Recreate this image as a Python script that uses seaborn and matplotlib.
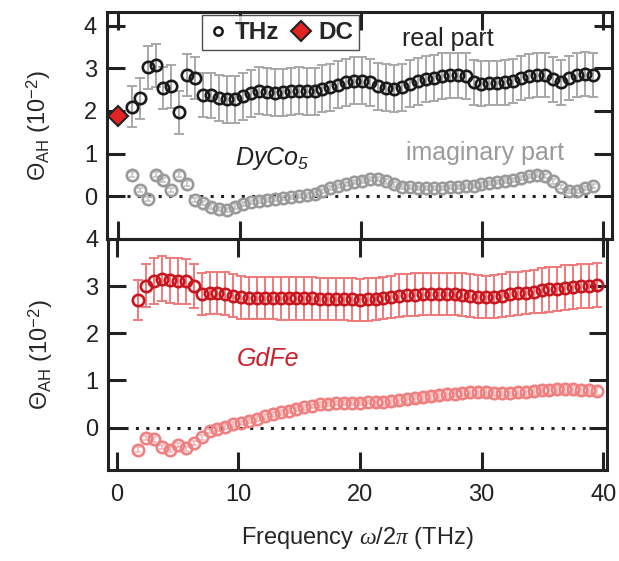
import numpy as np
import pandas as pd
import seaborn as sns
import matplotlib.pyplot as plt
from matplotlib.lines import Line2D

# DyCo5 (top panel): THz frequencies and Hall angle (10^-2)
freq_dyco = [1.10, 1.76, 2.41, 3.07, 3.72, 4.38, 5.04, 5.69, 6.35, 7.00,
             7.66, 8.32, 8.97, 9.63, 10.28, 10.94, 11.60, 12.25, 12.91, 13.56,
             14.22, 14.88, 15.53, 16.19, 16.84, 17.50, 18.16, 18.81, 19.47, 20.12,
             20.78, 21.44, 22.09, 22.75, 23.40, 24.06, 24.72, 25.37, 26.03, 26.68,
             27.34, 28.00, 28.65, 29.31, 29.96, 30.62, 31.28, 31.93, 32.59, 33.24,
             33.90, 34.56, 35.21, 35.87, 36.52, 37.18, 37.84, 38.49, 39.15]
dyco_re = [2.10, 2.30, 3.02, 3.07, 2.54, 2.58, 1.97, 2.85, 2.78, 2.37,
           2.37, 2.30, 2.28, 2.28, 2.35, 2.41, 2.47, 2.45, 2.43, 2.44,
           2.46, 2.48, 2.46, 2.46, 2.52, 2.56, 2.61, 2.67, 2.71, 2.71,
           2.67, 2.58, 2.54, 2.52, 2.56, 2.64, 2.70, 2.74, 2.77, 2.82,
           2.84, 2.84, 2.82, 2.67, 2.64, 2.65, 2.65, 2.67, 2.71, 2.77,
           2.82, 2.85, 2.84, 2.74, 2.67, 2.77, 2.84, 2.86, 2.85]
dyco_re_err = [0.48, 0.48, 0.50, 0.50, 0.50, 0.50, 0.50, 0.49, 0.49, 0.52,
               0.53, 0.54, 0.55, 0.55, 0.55, 0.55, 0.55, 0.55, 0.55, 0.55,
               0.55, 0.55, 0.55, 0.55, 0.55, 0.55, 0.55, 0.55, 0.55, 0.55,
               0.55, 0.55, 0.55, 0.55, 0.55, 0.55, 0.55, 0.54, 0.54, 0.54,
               0.53, 0.53, 0.53, 0.52, 0.52, 0.52, 0.52, 0.52, 0.52, 0.52,
               0.52, 0.52, 0.52, 0.52, 0.52, 0.52, 0.52, 0.52, 0.52]
dyco_im = [0.51, 0.15, -0.07, 0.51, 0.39, 0.15, 0.51, 0.30, -0.08, -0.16,
           -0.24, -0.30, -0.32, -0.24, -0.18, -0.13, -0.10, -0.08, -0.06, -0.04,
           -0.02, 0.00, 0.02, 0.06, 0.12, 0.19, 0.24, 0.29, 0.33, 0.37,
           0.41, 0.40, 0.35, 0.28, 0.23, 0.21, 0.20, 0.20, 0.20, 0.20,
           0.22, 0.22, 0.24, 0.25, 0.28, 0.32, 0.34, 0.37, 0.39, 0.43,
           0.47, 0.51, 0.48, 0.35, 0.22, 0.12, 0.12, 0.20, 0.24]
dyco_im_err = [0.05] * 59
dc_freq = [0.0]
dc_value = [1.88]

# GdFe (bottom panel)
freq_gdfe = [1.78, 2.43, 3.08, 3.73, 4.38, 5.03, 5.68, 6.33, 6.98, 7.63,
             8.28, 8.93, 9.58, 10.23, 10.88, 11.53, 12.18, 12.83, 13.48, 14.13,
             14.78, 15.43, 16.08, 16.73, 17.38, 18.03, 18.68, 19.33, 19.98, 20.63,
             21.28, 21.93, 22.58, 23.23, 23.88, 24.53, 25.18, 25.83, 26.48, 27.13,
             27.78, 28.43, 29.08, 29.73, 30.38, 31.03, 31.68, 32.33, 32.98, 33.63,
             34.28, 34.93, 35.58, 36.23, 36.88, 37.53, 38.18, 38.83, 39.48]
gdfe_re = [2.71, 3.01, 3.11, 3.16, 3.12, 3.11, 3.10, 3.00, 2.83, 2.86,
           2.86, 2.84, 2.80, 2.76, 2.75, 2.75, 2.75, 2.75, 2.74, 2.74,
           2.74, 2.74, 2.74, 2.73, 2.73, 2.73, 2.73, 2.72, 2.71, 2.72,
           2.73, 2.75, 2.77, 2.80, 2.81, 2.82, 2.83, 2.83, 2.83, 2.83,
           2.83, 2.82, 2.80, 2.78, 2.77, 2.78, 2.80, 2.83, 2.85, 2.86,
           2.88, 2.91, 2.93, 2.94, 2.97, 2.98, 3.00, 3.01, 3.02]
gdfe_re_err = [0.42, 0.46, 0.48, 0.48, 0.48, 0.48, 0.47, 0.46, 0.45, 0.45,
               0.45, 0.45, 0.45, 0.45, 0.45, 0.45, 0.45, 0.45, 0.45, 0.45,
               0.45, 0.45, 0.45, 0.45, 0.45, 0.45, 0.45, 0.45, 0.45, 0.45,
               0.45, 0.45, 0.45, 0.45, 0.45, 0.45, 0.45, 0.45, 0.45, 0.45,
               0.45, 0.45, 0.45, 0.45, 0.45, 0.46, 0.46, 0.46, 0.46, 0.46,
               0.46, 0.47, 0.47, 0.47, 0.47, 0.47, 0.47, 0.47, 0.47]
gdfe_im = [-0.47, -0.22, -0.25, -0.41, -0.47, -0.37, -0.44, -0.33, -0.21, -0.07,
           -0.02, 0.02, 0.07, 0.10, 0.15, 0.19, 0.24, 0.28, 0.32, 0.36,
           0.40, 0.43, 0.46, 0.49, 0.51, 0.52, 0.53, 0.53, 0.53, 0.54,
           0.54, 0.55, 0.56, 0.58, 0.60, 0.62, 0.64, 0.66, 0.69, 0.71,
           0.72, 0.74, 0.75, 0.76, 0.75, 0.74, 0.74, 0.74, 0.75, 0.76,
           0.77, 0.79, 0.80, 0.81, 0.81, 0.81, 0.80, 0.79, 0.78]
gdfe_im_err = [0.05] * 30 + [0.08] * 29

sns.set_style('ticks')
plt.rcParams['font.family'] = ['Liberation Sans', 'DejaVu Sans']
plt.rcParams['mathtext.fontset'] = 'custom'
plt.rcParams['mathtext.rm'] = 'Liberation Sans'
plt.rcParams['mathtext.it'] = 'Liberation Serif:italic'
plt.rcParams['mathtext.sf'] = 'Liberation Sans:italic'

FS = 17
INK = '#222222'

fig = plt.figure(figsize=(6.19, 5.61), dpi=100)
ax1 = fig.add_axes([0.1724, 0.574, 0.8163, 0.4046])
ax2 = fig.add_axes([0.175, 0.1622, 0.805, 0.4118])


def draw(ax, f, y, err, color, ecolor, elw=1.4, cap=3.6):
    ax.errorbar(f, y, yerr=err, fmt='none', ecolor=ecolor, elinewidth=elw,
                capsize=cap, capthick=elw, zorder=2)
    sns.lineplot(x=f, y=y, ax=ax, marker='o', linestyle='', color=color,
                 mfc='none', mec=color, mew=1.9, ms=8.2, sort=False,
                 errorbar=None, zorder=3)


# top: DyCo5
draw(ax1, freq_dyco, dyco_re, dyco_re_err, '#1a1a1a', '#a8a8a8')
draw(ax1, freq_dyco, dyco_im, dyco_im_err, '#9a9a9a', '#c4c4c4', elw=1.2, cap=2)
sns.lineplot(x=dc_freq, y=dc_value, ax=ax1, marker='D', linestyle='',
             color='#e32222', mfc='#e32222', mec=INK, mew=1.5, ms=10.5,
             errorbar=None, zorder=5)

# bottom: GdFe
draw(ax2, freq_gdfe, gdfe_re, gdfe_re_err, '#c8161e', '#f07a7a')
draw(ax2, freq_gdfe, gdfe_im, gdfe_im_err, '#f08080', '#f6b8b8', elw=1.2, cap=2)

for ax, xl, yl in [(ax1, (-0.96, 40.74), (-1.0, 4.32)),
                   (ax2, (-0.69, 40.28), (-0.9, 4.0))]:
    ax.hlines(0, 0.7, 38.8, colors=INK, linewidth=2.2, linestyles=(0, (1, 2.4)),
              zorder=1)
    ax.set_xlim(*xl)
    ax.set_ylim(*yl)
    ax.set_xticks([0, 10, 20, 30, 40])
    ax.set_yticks([0, 1, 2, 3, 4])
    ax.tick_params(direction='in', length=13, width=2.2, colors=INK,
                   top=True, right=True, labelsize=FS)
    ax.tick_params(axis='y', pad=7)
    ax.tick_params(axis='x', pad=10)
    for s in ax.spines.values():
        s.set_linewidth(2.2)
        s.set_color(INK)
    ax.set_ylabel(r'$\Theta_{\mathrm{AH}}$ (10$^{-2}$)', fontsize=FS, labelpad=22)
    ax.set_facecolor('none')

ax1.tick_params(labelbottom=False)
ax2.set_xlabel(r'Frequency $\omega/2\pi$ (THz)', fontsize=FS, labelpad=14)

ax1.text(27.2, 3.53, 'real part', fontsize=18, color=INK, ha='center', va='baseline')
ax1.text(30.3, 0.86, 'imaginary part', fontsize=18, color='#9a9a9a',
         ha='center', va='baseline')
ax1.text(9.62, 0.73, r'$\mathsf{DyCo_5}$', fontsize=18, color=INK,
         ha='left', va='baseline')
ax2.text(9.86, 1.30, 'GdFe', fontsize=18, style='italic', color='#cc1f2a',
         ha='left', va='baseline')

handles = [Line2D([], [], marker='o', linestyle='', mfc='none', mec='#1a1a1a',
                  mew=1.8, ms=6),
           Line2D([], [], marker='D', linestyle='', mfc='#e32222', mec=INK,
                  mew=1.5, ms=10)]
leg = ax1.legend(handles, ['THz', 'DC'], ncol=2, loc='upper left',
                 bbox_to_anchor=(0.189, 0.987), frameon=True, fancybox=False,
                 edgecolor=INK, prop={'weight': 'bold', 'size': 17.5},
                 handlelength=0.8, handletextpad=0.3, columnspacing=0.5,
                 borderpad=0.25, borderaxespad=0)
leg.get_frame().set_linewidth(1.0)

fig.savefig('out.png', dpi=100, facecolor='white')
